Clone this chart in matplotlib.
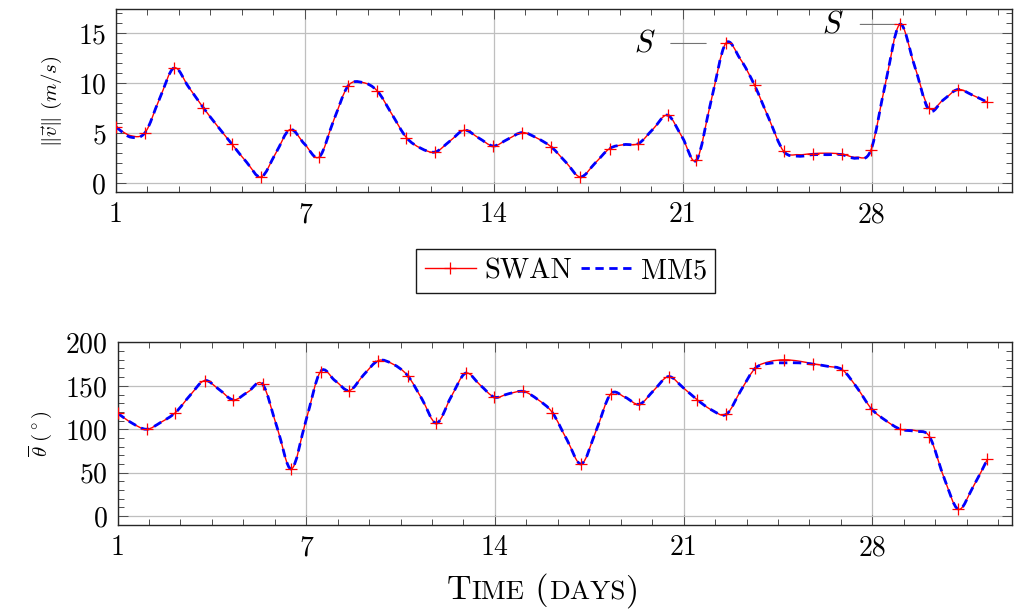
import matplotlib
matplotlib.use('Agg')
import matplotlib.pyplot as plt
from matplotlib.ticker import MultipleLocator
from matplotlib.offsetbox import TextArea, HPacker, AnnotationBbox
from matplotlib.path import Path
from matplotlib.patches import PathPatch
from matplotlib.lines import Line2D

plt.rcParams['font.family'] = 'serif'
plt.rcParams['font.serif'] = ['cmr10', 'DejaVu Serif']
plt.rcParams['mathtext.fontset'] = 'cm'
plt.rcParams['axes.formatter.use_mathtext'] = True

# time in days (markers on every second entry)
day = [0.00, 0.54, 1.08, 1.61, 2.15, 2.69, 3.23, 3.76, 4.30, 4.84,
       5.38, 5.92, 6.45, 6.99, 7.53, 8.07, 8.60, 9.14, 9.68, 10.22,
       10.76, 11.29, 11.83, 12.37, 12.91, 13.45, 13.98, 14.52, 15.06, 15.60,
       16.13, 16.67, 17.21, 17.75, 18.29, 18.82, 19.36, 19.90, 20.44, 20.98,
       21.51, 22.05, 22.59, 23.13, 23.66, 24.20, 24.74, 25.28, 25.81, 26.35,
       26.89, 27.43, 27.97, 28.50, 29.04, 29.58, 30.12, 30.65, 31.19, 31.73,
       32.27]

speed_swan = [5.62, 4.75, 5.06, 8.4, 11.51, 9.6, 7.55, 5.7, 3.89, 2.1,
              0.63, 3.0, 5.36, 3.9, 2.62, 6.3, 9.71, 10.05, 9.21, 6.9,
              4.56, 3.5, 3.12, 4.2, 5.29, 4.5, 3.72, 4.4, 5.06, 4.5,
              3.62, 2.1, 0.63, 2.0, 3.46, 3.85, 3.96, 5.4, 6.79, 4.6,
              2.30, 8.2, 13.94, 12.4, 9.78, 6.4, 3.19, 2.85, 2.96, 3.0,
              2.92, 2.6, 3.29, 9.8, 15.84, 11.8, 7.52, 8.3, 9.35, 8.8,
              8.11]
speed_mm5 = [5.62, 4.6, 5.06, 8.4, 11.51, 9.6, 7.55, 5.7, 3.89, 2.1,
             0.63, 3.0, 5.36, 3.9, 2.62, 6.3, 9.71, 10.05, 9.21, 6.9,
             4.56, 3.5, 3.12, 4.2, 5.29, 4.5, 3.72, 4.4, 5.06, 4.5,
             3.62, 2.1, 0.63, 2.0, 3.46, 3.85, 3.96, 5.4, 6.79, 4.6,
             2.30, 8.2, 13.94, 12.4, 9.78, 6.4, 3.19, 2.7, 2.85, 2.85,
             2.85, 2.5, 3.29, 9.8, 15.84, 11.8, 7.3, 8.3, 9.35, 8.8,
             8.11]

dir_swan = [118.5, 107, 100.0, 108, 119.2, 139, 156.1, 146, 133.8, 143,
            151.9, 102, 54.2, 110, 166.5, 156, 144.6, 163, 179.2, 175,
            161.9, 135, 107.0, 137, 164.6, 151, 137.0, 141, 143.5, 134,
            119.2, 88, 60.0, 98, 140.4, 137, 128.8, 145, 160.7, 148,
            133.8, 122, 117.3, 145, 170.4, 178, 180.0, 178.5, 175.4, 172.5,
            168.5, 148, 123.5, 110, 100.0, 98.5, 91.5, 45, 7.7, 33,
            65.4]
dir_mm5 = [118.5, 107, 100.0, 108, 119.2, 139, 156.1, 146, 133.8, 143,
           151.9, 102, 54.2, 110, 166.5, 156, 144.6, 163, 179.2, 175,
           161.9, 135, 107.0, 137, 164.6, 151, 137.0, 141, 143.5, 134,
           119.2, 88, 60.0, 98, 140.4, 137, 128.8, 145, 160.7, 148,
           133.8, 122, 117.3, 145, 170.4, 176, 176.5, 176.5, 175.0, 172.5,
           168.5, 148, 123.5, 110, 100.0, 97.5, 91.5, 45, 7.7, 33,
           65.4]

xticks = [0, 7, 14, 21, 28]
xtick_labels = ['1', '7', '14', '21', '28']
peak_idx = [42, 54]   # entries annotated with S

fig = plt.figure(figsize=(10.14, 6.12), dpi=100)
ax1 = fig.add_axes([0.1144, 0.6863, 0.8836, 0.2982])
ax2 = fig.add_axes([0.1159, 0.1422, 0.8826, 0.2982])


def style(ax, major_y, minor_y, ylim):
    ax.set_xlim(0, 33.2)
    ax.set_ylim(*ylim)
    ax.set_xticks(xticks)
    ax.set_xticklabels(xtick_labels)
    ax.xaxis.set_minor_locator(MultipleLocator(7 / 6))
    ax.set_yticks(major_y)
    ax.yaxis.set_minor_locator(MultipleLocator(minor_y))
    ax.tick_params(which='both', direction='in', top=True, right=True,
                   color='0.3', width=0.7, labelsize=20)
    ax.tick_params(which='major', length=7, pad=7)
    ax.tick_params(which='minor', length=4.5)
    ax.grid(True, which='major', color='0.75', lw=0.9)
    ax.set_axisbelow(True)
    for s in ax.spines.values():
        s.set_color('0.15')
        s.set_linewidth(1.0)


def smooth(ax, x, y, **kw):
    # draw a curve through the points like pgfplots' "smooth"
    n = len(x)
    verts = [(x[0], y[0])]
    codes = [Path.MOVETO]
    for i in range(n - 1):
        a = max(i - 1, 0)
        b = min(i + 2, n - 1)
        c1 = (x[i] + (x[i + 1] - x[a]) / 6, y[i] + (y[i + 1] - y[a]) / 6)
        c2 = (x[i + 1] - (x[b] - x[i]) / 6, y[i + 1] - (y[b] - y[i]) / 6)
        verts += [c1, c2, (x[i + 1], y[i + 1])]
        codes += [Path.CURVE4] * 3
    ax.add_patch(PathPatch(Path(verts, codes), fill=False, **kw))


def draw(ax, y_swan, y_mm5):
    smooth(ax, day, y_swan, edgecolor='red', lw=1.0, zorder=2)
    smooth(ax, day, y_mm5, edgecolor='blue', lw=2.0,
           linestyle=(0, (3, 2)), zorder=3)
    ax.plot(day[::2], y_swan[::2], ls='none', color='red', marker='+',
            ms=9, mew=0.9, zorder=4)


draw(ax1, speed_swan, speed_mm5)
draw(ax2, dir_swan, dir_mm5)

style(ax1, [0, 5, 10, 15], 1, (-0.87, 17.33))
style(ax2, [0, 50, 100, 150, 200], 10, (-10.4, 200))

ax1.set_ylabel(r'$\Vert\vec{v}\Vert\ (m/s)$', fontsize=15, labelpad=10)
ax2.set_ylabel(r'$\overline{\theta}\ (^\circ)$', fontsize=15, labelpad=8)

# S pins on the two storm peaks
for k, (dx, sa, sb) in zip(peak_idx, [(-81, 9, 14), (-67, 10, 2)]):
    ax1.annotate(r'$S$', xy=(day[k], speed_swan[k]), xytext=(dx, 0),
                 textcoords='offset pixels', ha='center', va='center',
                 fontsize=22,
                 arrowprops=dict(arrowstyle='-', color='0.45', lw=0.8,
                                 shrinkA=sa, shrinkB=sb))

h1 = Line2D([], [], color='red', lw=1.0, marker='+', ms=9, mew=0.9)
h2 = Line2D([], [], color='blue', lw=2.0, dashes=(3, 2))
fig.legend([h1, h2], ['SWAN', 'MM5'], loc='center',
           bbox_to_anchor=(0.558, 0.557), ncol=2, fontsize=20.5,
           frameon=True, fancybox=False, edgecolor='0.1', framealpha=1,
           handlelength=1.8, handletextpad=0.3, columnspacing=0.3,
           borderpad=0.3)

# small-caps axis label
big = dict(fontsize=24.5, family='serif')
small = dict(fontsize=19.5, family='serif')
parts = [TextArea('T', textprops=big), TextArea('IME', textprops=small),
         TextArea(' (', textprops=big), TextArea('DAYS', textprops=small),
         TextArea(')', textprops=big)]
pack = HPacker(children=parts, align='baseline', pad=0, sep=0)
ab = AnnotationBbox(pack, (0.475, -0.36), xycoords=ax2.transAxes,
                    box_alignment=(0.5, 0.5), frameon=False)
ax2.add_artist(ab)

fig.savefig('out.png', dpi=100)
